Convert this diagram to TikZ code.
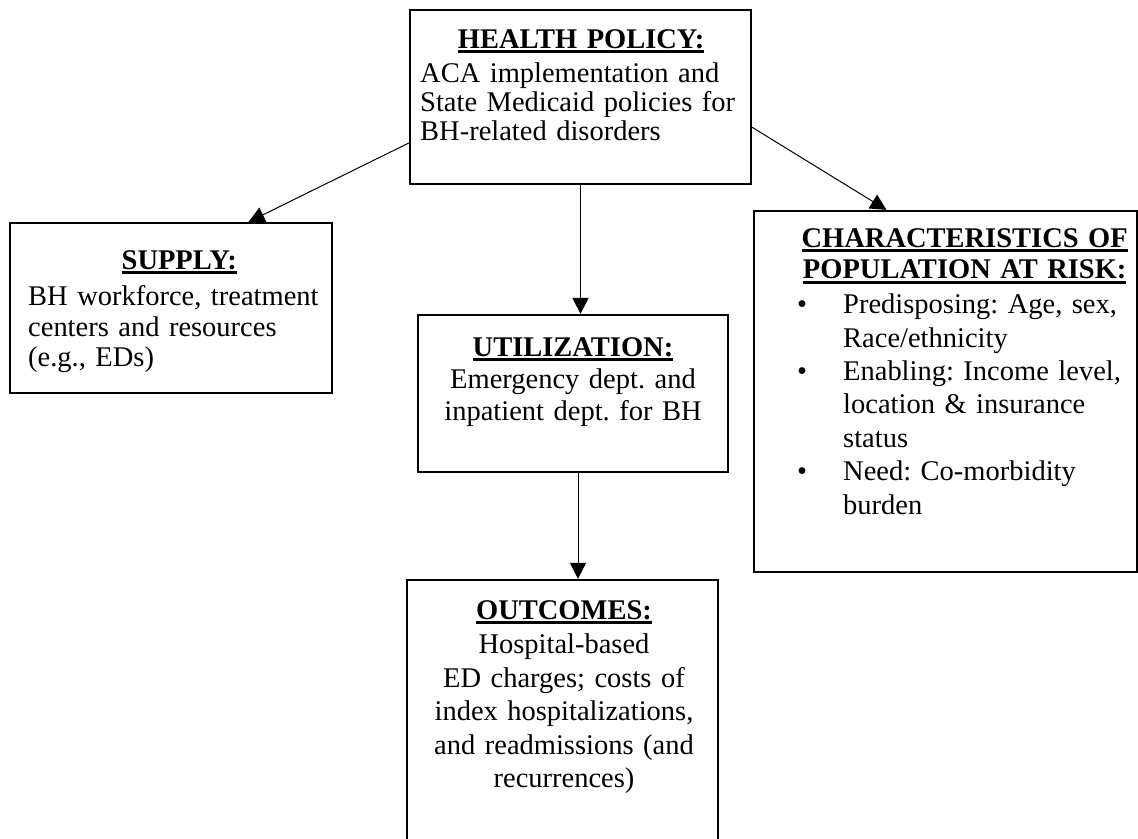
\documentclass[tikz,border=0pt]{standalone}
\usepackage{fontspec}
\setmainfont{Liberation Serif}
\usetikzlibrary{arrows.meta}
\frenchspacing
\newcommand\boxhead[1]{\setbox0\hbox{\bfseries#1}\rlap{\vrule height -2bp depth 4.8bp width\wd0}\box0}
\tikzset{
	box/.style={draw, line width=2.2bp, inner sep=0pt},
	txt/.style={inner sep=0pt, font=\fontsize{28.6}{#1}\selectfont\frenchspacing},
	arr/.style={-{Triangle[length=16bp,width=16bp]}, line width=1bp}
}
\begin{document}
\begin{tikzpicture}[x=1bp, y=-1bp]
		%%%%% START %%%%%
		\useasboundingbox (0, 0) rectangle (1138, 839);
		
		\node[box, minimum width=341bp, minimum height=174bp] (health) at (580.5, 97) {};
		\node[txt=28.7, anchor=north west, text width=322bp, align=left] (healthtxt) at (420, 29)
			{\makebox[\hsize]{\boxhead{HEALTH POLICY:}}\\[6.3bp]
			ACA implementation and\\ State Medicaid policies for\\ BH-related disorders};
		
		\node[box, minimum width=322bp, minimum height=170bp] (supply) at (171, 308) {};
		\node[txt=30.5, anchor=north west, text width=302bp, align=left] (supplytxt) at (28, 250)
			{\makebox[\hsize]{\boxhead{SUPPLY:}}\\[6.5bp]
			BH workforce, treatment\\ centers and resources\\ (e.g., EDs)};
		
		\node[box, minimum width=310bp, minimum height=157bp] (util) at (573, 393.5) {};
		\node[txt=32, anchor=north, text width=300bp, align=center] (utiltxt) at (573, 337)
			{\boxhead{UTILIZATION:}\\[1bp]
			Emergency dept. and\\ inpatient dept. for BH};
		
		\node[box, minimum width=311bp, minimum height=260bp] (outcomes) at (562.5, 710) {};
		\node[txt=33.5, anchor=north, text width=300bp, align=center] (outtxt) at (564, 600)
			{\boxhead{OUTCOMES:}\\[1.5bp]
			Hospital-based\\ ED charges; costs of\\ index hospitalizations,\\
			and readmissions (and\\ recurrences)};
		
		\node[box, minimum width=383bp, minimum height=361bp] (char) at (945.5, 391.5) {};
		\node[txt=33.5, anchor=north west, text width=335bp, align=left] (chartxt) at (797, 228)
			{\makebox[\hsize]{\boxhead{CHARACTERISTICS OF}}\\[-1.5bp]
			\makebox[\hsize]{\boxhead{POPULATION AT RISK:}}\\[1.5bp]
			\makebox[46bp][l]{\textbullet}Predisposing: Age, sex,\\
			\hspace*{46bp}Race/ethnicity\\
			\makebox[46bp][l]{\textbullet}Enabling: Income level,\\
			\hspace*{46bp}location \& insurance\\
			\hspace*{46bp}status\\
			\makebox[46bp][l]{\textbullet}Need: Co-morbidity\\
			\hspace*{46bp}burden};
		
		\draw[arr] (health.195) -- (supply.48.5);
		\draw[arr] (health.-10) -- (char.108);
		\draw[arr] (health.south) -- (health.south |- util.north);
		\draw[arr] ([xshift=5bp]util.south) -- ([xshift=5bp]util.south |- outcomes.north);
		
		%%%%% END %%%%%
\end{tikzpicture}
\end{document}
